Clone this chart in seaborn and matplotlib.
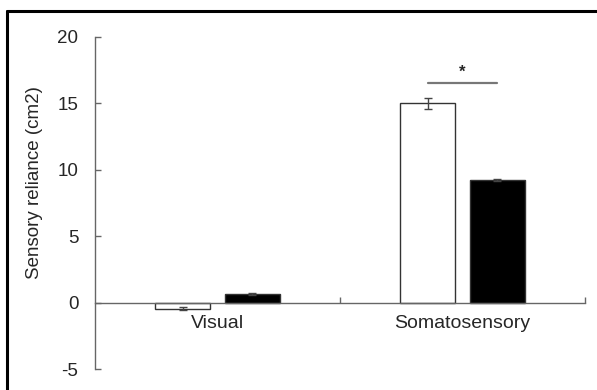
import matplotlib
matplotlib.use("Agg")
import matplotlib.pyplot as plt
import seaborn as sns
import pandas as pd
from matplotlib.lines import Line2D
from matplotlib.ticker import FixedLocator

categories = ["Visual", "Somatosensory"]
groups = ["Group 1", "Group 2"]
group1_means = [-0.45, 15.0]
group1_errs = [0.1, 0.4]
group2_means = [0.65, 9.2]
group2_errs = [0.05, 0.08]
y_ticks = [-5, 0, 5, 10, 15, 20]
y_label = "Sensory reliance (cm2)"
sig_y = 16.55
sig_label = "*"

df = pd.DataFrame({
    "category": categories * 2,
    "group": [groups[0]] * 2 + [groups[1]] * 2,
    "value": group1_means + group2_means,
})
errs = {groups[0]: group1_errs, groups[1]: group2_errs}

sns.set_style("white")
plt.rcParams["font.family"] = ["Liberation Sans", "DejaVu Sans"]

fig = plt.figure(figsize=(5.97, 3.90), dpi=100)
ax = fig.add_axes([95 / 597, 1 - 369 / 390, 490 / 597, 332 / 390])

sns.barplot(data=df, x="category", y="value", hue="group", order=categories,
            hue_order=groups, palette=["white", "black"], width=0.57, gap=0.21,
            errorbar=None, legend=False, edgecolor="#333333", linewidth=1.0, ax=ax)

for cont, g in zip(ax.containers, groups):
    for patch, e in zip(cont.patches, errs[g]):
        xc = patch.get_x() + patch.get_width() / 2
        top = patch.get_y() + patch.get_height()
        ax.errorbar([xc], [top], yerr=[e], fmt="none", ecolor="#444444",
                    elinewidth=1.0, capsize=3, capthick=1.0, zorder=5)

# significance line over the Somatosensory pair
p1 = ax.containers[0].patches[1]
p2 = ax.containers[1].patches[1]
x1 = p1.get_x() + p1.get_width() / 2
x2 = p2.get_x() + p2.get_width() / 2
ax.plot([x1, x2], [sig_y, sig_y], color="#777777", lw=1.6)
ax.text((x1 + x2) / 2, sig_y + 0.25, sig_label, ha="center", va="bottom",
        fontsize=12, fontweight="bold")

ax.set_xlim(-0.5, 1.5)
ax.set_ylim(-5, 20)
ax.set_yticks(y_ticks)
ax.set_yticklabels([str(t) for t in y_ticks])
ax.set_xlabel("")
ax.set_ylabel(y_label, fontsize=13.5)
ax.yaxis.set_label_coords(-0.106, 0.563)

for s in ["top", "right"]:
    ax.spines[s].set_visible(False)
ax.spines["bottom"].set_position(("data", 0))
ax.spines["left"].set_bounds(-5, 20)
for s in ["left", "bottom"]:
    ax.spines[s].set_color("#666666")
    ax.spines[s].set_linewidth(1.0)

ax.tick_params(axis="y", left=True, direction="in", length=4, width=1.0,
               color="#666666", labelsize=13.5, pad=12)
ax.tick_params(axis="x", which="major", bottom=False, length=0, labelsize=14, pad=9)
ax.xaxis.set_minor_locator(FixedLocator([0.5, 1.5]))
ax.tick_params(axis="x", which="minor", bottom=True, direction="in", length=4,
               width=1.0, color="#666666")

# figure frame (top and left edges)
fig.add_artist(Line2D([7 / 597, 1.0], [1 - 10.5 / 390, 1 - 10.5 / 390],
                      transform=fig.transFigure, color="black", lw=2.2))
fig.add_artist(Line2D([7 / 597, 7 / 597], [0.0, 1 - 10.5 / 390],
                      transform=fig.transFigure, color="black", lw=2.2))

fig.savefig("out.png", dpi=100)
